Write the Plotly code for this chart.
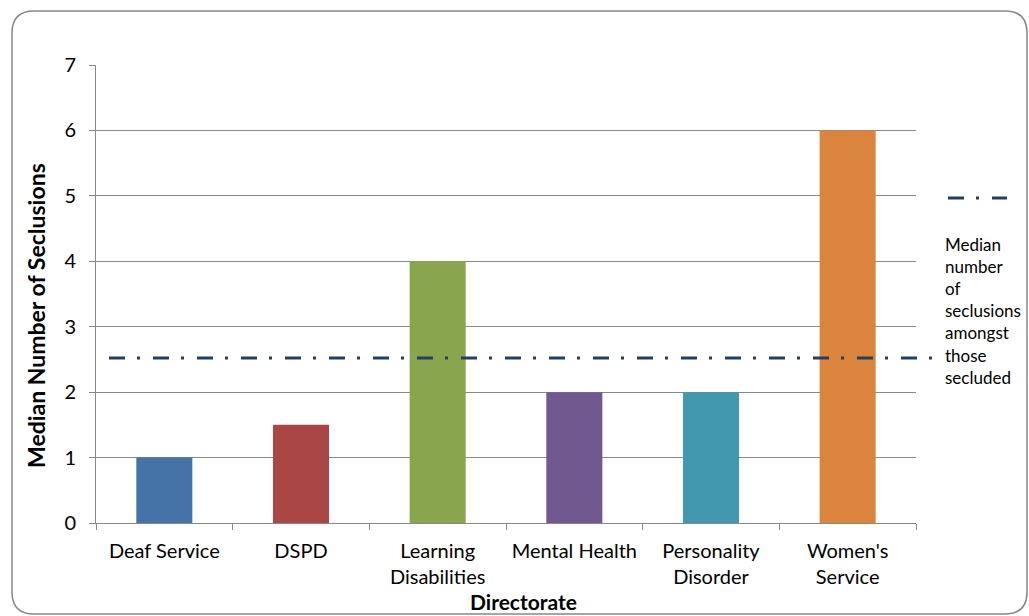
import plotly.graph_objects as go

categories = ["Deaf Service", "DSPD", "Learning<br>Disabilities", "Mental Health",
              "Personality<br>Disorder", "Women's<br>Service"]
values = [1, 1.5, 4, 2, 2, 6]
bar_colors = ["#4572A7", "#AA4643", "#89A54E", "#71588F", "#4198AF", "#DB843D"]
median_value = 2.52
legend_label = "Median<br>number<br>of<br>seclusions<br>amongst<br>those<br>secluded"
x_title = "Directorate"
y_title = "Median Number of Seclusions"

FONT = "Lato, 'Open Sans', sans-serif"
GRID = "#888888"
LINE_COL = "#243F60"
DASH = "16px,12px,3px,13px"

W, H = 1029, 616
L, R, T, B = 96, 916, 65, 523
pw, ph = R - L, B - T

def px(x):
    return (x - L) / pw

def py(y):
    return (B - y) / ph

fig = go.Figure()
fig.add_trace(go.Bar(x=categories, y=values, marker=dict(color=bar_colors, line=dict(width=0)),
                     width=0.41, showlegend=False, hoverinfo="x+y"))

fig.update_layout(
    width=W, height=H,
    margin=dict(l=L, r=W - R, t=T, b=H - B, autoexpand=False),
    paper_bgcolor="white", plot_bgcolor="white",
    font=dict(family=FONT, size=20, color="#000000"),
    showlegend=False,
    xaxis=dict(type="category", showline=True, linecolor=GRID, linewidth=1,
               ticks="outside", tickson="boundaries", ticklen=6, tickcolor=GRID,
               showgrid=False, zeroline=False, automargin=False,
               ticklabelstandoff=10, tickfont=dict(size=20)),
    yaxis=dict(range=[0, 7], dtick=1, showline=True, linecolor=GRID, linewidth=1,
               ticks="outside", ticklen=6, tickcolor=GRID,
               showgrid=True, gridcolor=GRID, gridwidth=1, zeroline=False,
               ticklabelstandoff=9, automargin=False, tickfont=dict(size=20)),
)

# axis titles
fig.add_annotation(xref="paper", yref="paper", x=px(523), y=py(601), xanchor="center", yanchor="middle",
                   text="<b>" + x_title + "</b>", showarrow=False, font=dict(size=21))
fig.add_annotation(xref="paper", yref="paper", x=px(36), y=py(316), xanchor="center", yanchor="middle",
                   text="<b>" + y_title + "</b>", showarrow=False, textangle=-90, font=dict(size=23))

# median line across plot
fig.add_shape(type="line", xref="paper", yref="y", x0=px(109), x1=px(943),
              y0=median_value, y1=median_value,
              line=dict(color=LINE_COL, width=3, dash=DASH), layer="above")

# legend sample
fig.add_shape(type="line", xref="paper", yref="paper", x0=px(948), x1=px(1007),
              y0=py(198), y1=py(198),
              line=dict(color=LINE_COL, width=3, dash=DASH))
fig.add_annotation(xref="paper", yref="paper", x=px(943), y=py(232), xanchor="left", yanchor="top",
                   text=legend_label, showarrow=False, align="left",
                   font=dict(size=17, family=FONT, color="#000000"))

# rounded chart border
x0, x1, y0, y1 = px(12), px(1027), py(614), py(11)
rx, ry = 22 / pw, 22 / ph
path = (f"M {x0+rx},{y1} L {x1-rx},{y1} Q {x1},{y1} {x1},{y1-ry} "
        f"L {x1},{y0+ry} Q {x1},{y0} {x1-rx},{y0} L {x0+rx},{y0} Q {x0},{y0} {x0},{y0+ry} "
        f"L {x0},{y1-ry} Q {x0},{y1} {x0+rx},{y1} Z")
fig.add_shape(type="path", xref="paper", yref="paper", path=path,
              line=dict(color="#888888", width=1.5), layer="below")

fig.write_html("out.html", config={"displayModeBar": False},
               post_script="document.body.style.margin='0px';")
